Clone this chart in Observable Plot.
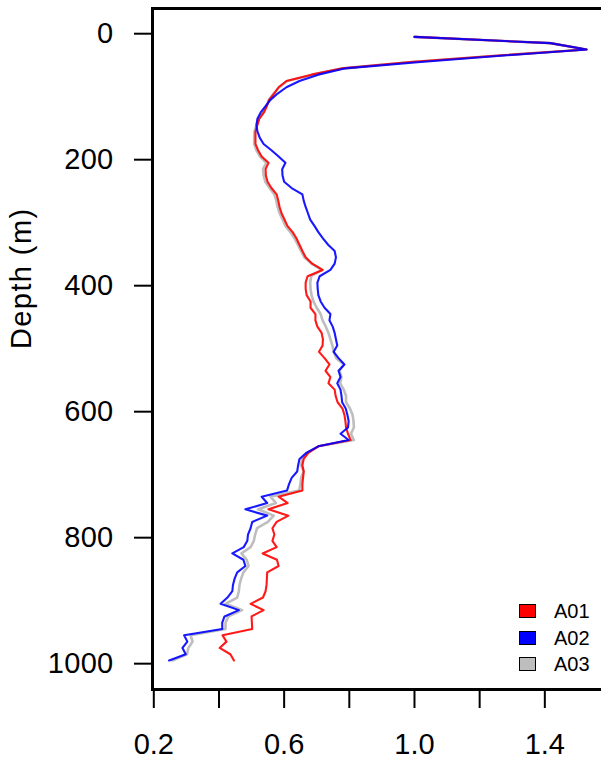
<!DOCTYPE html>
<html><head><meta charset="utf-8">
<script src="https://cdn.jsdelivr.net/npm/d3@7"></script>
<script src="https://cdn.jsdelivr.net/npm/@observablehq/plot@0.6"></script>
<style>
body{margin:0;background:#fff;}
#wrap{position:relative;width:601px;height:760px;overflow:hidden;font-family:"Liberation Sans",Arial,sans-serif;}
#wrap svg g[aria-label="y-axis tick label"] text{letter-spacing:0.3px;}
#wrap svg g[aria-label="text"] text{letter-spacing:1.4px;}
.legend{position:absolute;left:519px;top:604px;}
.row{position:absolute;left:0;height:14px;display:flex;align-items:center;white-space:nowrap;}
.sw{width:15px;height:12px;border:1px solid #000;}
.lab{margin-left:18px;font-size:20px;color:#000;line-height:14px;}
</style></head>
<body>
<div id="wrap"></div>
<script>
const depth = [
  5,15,25,35,45,55,65,75,85,95,
  105,115,125,135,145,155,165,175,185,195,
  205,215,225,235,245,255,265,275,285,295,
  305,315,325,335,345,355,365,375,385,395,
  405,415,425,435,445,455,465,475,485,495,
  505,515,525,535,545,555,565,575,585,595,
  605,615,625,635,645,655,665,675,685,695,
  705,715,725,735,745,755,765,775,785,795,
  805,815,825,835,845,855,865,875,885,895,
  905,915,925,935,945,955,965,975,985,995
];
const A01 = [
  1.000,1.417,1.528,1.248,0.988,0.779,0.684,0.607,0.583,0.569,
  0.554,0.547,0.538,0.524,0.518,0.512,0.512,0.512,0.520,0.531,
  0.552,0.543,0.544,0.549,0.561,0.577,0.582,0.586,0.592,0.601,
  0.610,0.626,0.638,0.647,0.656,0.666,0.686,0.718,0.672,0.666,
  0.666,0.669,0.681,0.681,0.696,0.696,0.702,0.715,0.719,0.718,
  0.707,0.724,0.739,0.727,0.742,0.736,0.755,0.758,0.764,0.779,
  0.785,0.788,0.790,0.796,0.804,0.705,0.675,0.660,0.656,0.660,
  0.658,0.656,0.656,0.583,0.611,0.552,0.613,0.577,0.564,0.570,
  0.564,0.577,0.534,0.578,0.583,0.548,0.547,0.546,0.543,0.535,
  0.497,0.537,0.500,0.501,0.502,0.411,0.423,0.402,0.435,0.446
];
const A02 = [
  1.000,1.417,1.528,1.264,1.019,0.788,0.705,0.647,0.607,0.580,
  0.558,0.543,0.528,0.518,0.515,0.518,0.525,0.537,0.561,0.583,
  0.604,0.594,0.595,0.600,0.623,0.656,0.660,0.666,0.673,0.680,
  0.693,0.705,0.719,0.735,0.755,0.759,0.755,0.742,0.709,0.702,
  0.703,0.705,0.712,0.724,0.742,0.739,0.749,0.755,0.759,0.763,
  0.752,0.767,0.785,0.767,0.773,0.763,0.773,0.776,0.778,0.789,
  0.794,0.798,0.796,0.773,0.798,0.705,0.669,0.647,0.643,0.640,
  0.623,0.615,0.609,0.531,0.548,0.481,0.548,0.502,0.497,0.489,
  0.487,0.476,0.441,0.475,0.481,0.456,0.448,0.443,0.441,0.426,
  0.405,0.461,0.417,0.410,0.410,0.293,0.303,0.288,0.298,0.247
];
const A03 = [
  1.000,1.417,1.528,1.250,0.990,0.780,0.688,0.610,0.585,0.568,
  0.553,0.545,0.535,0.522,0.515,0.509,0.508,0.508,0.515,0.526,
  0.545,0.535,0.537,0.542,0.555,0.570,0.576,0.580,0.586,0.595,
  0.604,0.619,0.632,0.642,0.652,0.662,0.684,0.716,0.683,0.680,
  0.681,0.684,0.690,0.700,0.712,0.718,0.728,0.736,0.742,0.748,
  0.752,0.760,0.783,0.770,0.776,0.772,0.783,0.790,0.790,0.802,
  0.810,0.813,0.814,0.805,0.814,0.705,0.672,0.655,0.652,0.660,
  0.652,0.650,0.646,0.558,0.575,0.520,0.568,0.550,0.517,0.511,
  0.507,0.497,0.469,0.485,0.491,0.475,0.468,0.463,0.461,0.456,
  0.420,0.471,0.429,0.420,0.420,0.313,0.319,0.306,0.302,0.257
];
const seriesNames = ["A01","A02","A03"];
const seriesColors = ["#ff0000","#0000ff","#bebebe"];
const yTicks = [0,200,400,600,800,1000];
const yTickLabels = ["0","200","400","600","800","1000"];
const xTicks = [0.2,0.4,0.6,0.8,1.0,1.2,1.4];
const xTickLabels = ["0.2","","0.6","","1.0","","1.4"];
const yLabel = "Depth (m)";

const valuesBy = {A01, A02, A03};
const rows = s => depth.map((d, i) => ({depth: d, v: valuesBy[s][i], s}));
const colorOf = s => seriesColors[seriesNames.indexOf(s)];
const labelFor = (ticks, labels) => d => labels[ticks.findIndex(t => Math.abs(t - d) < 1e-9)];

const chart = Plot.plot({
  width: 601,
  height: 760,
  marginLeft: 152,
  marginRight: -1,
  marginTop: 8,
  marginBottom: 71,
  style: {fontFamily: '"Liberation Sans", Arial, sans-serif', color: "#000", background: "#fff"},
  x: {domain: [0.196, 1.577]},
  y: {domain: [-40, 1041], reverse: true},
  marks: [
    Plot.line(rows("A03"), {x: "v", y: "depth", stroke: colorOf("A03"), strokeWidth: 2.6}),
    Plot.line(rows("A01"), {x: "v", y: "depth", stroke: colorOf("A01"), strokeWidth: 2.1, strokeOpacity: 0.9}),
    Plot.line(rows("A02"), {x: "v", y: "depth", stroke: colorOf("A02"), strokeWidth: 2.1, strokeOpacity: 0.9}),
    Plot.frame({stroke: "#000", strokeWidth: 3}),
    Plot.axisY({ticks: yTicks, tickSize: 18, tickPadding: 21, fontSize: 29, label: null, strokeWidth: 2,
      tickFormat: labelFor(yTicks, yTickLabels)}),
    Plot.axisX({ticks: xTicks, tickSize: 19, tickPadding: 25, fontSize: 29, label: null, strokeWidth: 2,
      tickFormat: labelFor(xTicks, xTickLabels)}),
    Plot.text([yLabel], {frameAnchor: "left", dx: -131, rotate: -90, fontSize: 29, lineAnchor: "middle", text: d => d, fill: "#000"})
  ]
});
const wrap = document.getElementById("wrap");
wrap.appendChild(chart);

const legend = document.createElement("div");
legend.className = "legend";
seriesNames.forEach((name, i) => {
  const row = document.createElement("div");
  row.className = "row";
  row.style.top = (i * 26.5) + "px";
  const sw = document.createElement("div");
  sw.className = "sw";
  sw.style.background = seriesColors[i];
  const lab = document.createElement("span");
  lab.className = "lab";
  lab.textContent = name;
  row.appendChild(sw); row.appendChild(lab);
  legend.appendChild(row);
});
wrap.appendChild(legend);
</script>
</body></html>
